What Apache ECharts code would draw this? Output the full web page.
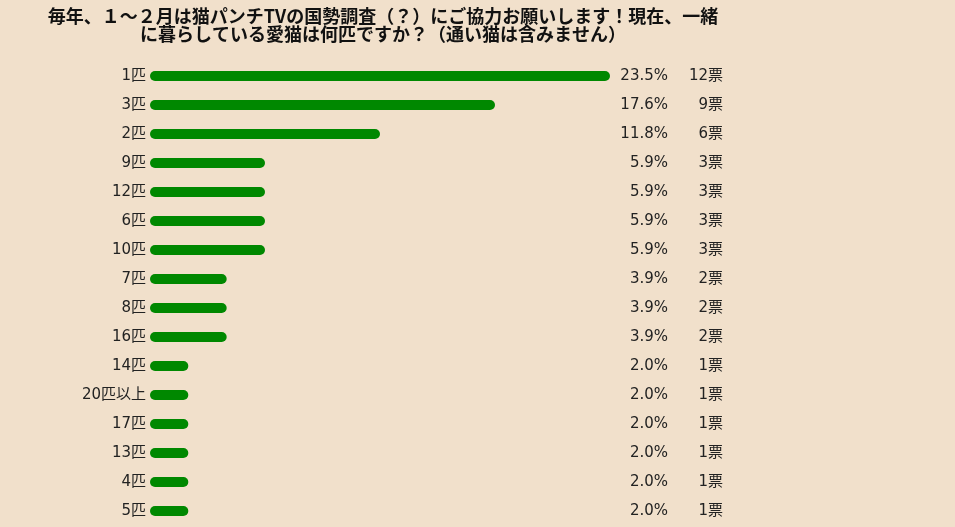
<!DOCTYPE html>
<html><head><meta charset="utf-8">
<script src="https://cdn.jsdelivr.net/npm/echarts@6/dist/echarts.min.js"></script>
<style>html,body{margin:0;padding:0;background:#F1E0CB}#c{width:955px;height:527px}</style>
</head><body><div id="c"></div>
<script>
const titleText = '毎年、１～２月は猫パンチTVの国勢調査（？）にご協力お願いします！現在、一緒\nに暮らしている愛猫は何匹ですか？（通い猫は含みません）';
const categories = ['1匹','3匹','2匹','9匹','12匹','6匹','10匹','7匹','8匹','16匹','14匹','20匹以上','17匹','13匹','4匹','5匹'];
const votes = [12,9,6,3,3,3,3,2,2,2,1,1,1,1,1,1];
const percents = ['23.5%','17.6%','11.8%','5.9%','5.9%','5.9%','5.9%','3.9%','3.9%','3.9%','2.0%','2.0%','2.0%','2.0%','2.0%','2.0%'];
const voteLabels = ['12票','9票','6票','3票','3票','3票','3票','2票','2票','2票','1票','1票','1票','1票','1票','1票'];

const chart = echarts.init(document.getElementById('c'));
const font = '"DejaVu Sans", "Noto Sans CJK JP", sans-serif';
const tfont = '"Noto Sans CJK JP", sans-serif';
chart.setOption({
  backgroundColor: '#F1E0CB',
  animation: false,
  title: {
    text: titleText, left: 378, top: 2, textAlign: 'center',
    textStyle: {fontFamily: tfont, fontSize: 18, fontWeight: 'bold', color: '#111', lineHeight: 18}
  },
  grid: {left: 150, width: 460, top: 61.5, height: 464},
  xAxis: {type: 'value', min: 0, max: 12, show: false},
  yAxis: [{
    type: 'category', data: categories, inverse: true,
    axisLine: {show: false}, axisTick: {show: false},
    axisLabel: {margin: 4, fontFamily: font, fontSize: 15, color: '#222'}
  }, {
    type: 'category', data: categories, inverse: true, position: 'right',
    axisLine: {show: false}, axisTick: {show: false},
    axisLabel: {
      margin: 0, fontFamily: font, fontSize: 15, color: '#222',
      formatter: (v, i) => '{p|' + percents[i] + '}{v|' + voteLabels[i] + '}',
      rich: {
        p: {width: 58, align: 'right', fontFamily: font, fontSize: 15, color: '#222'},
        v: {width: 55, align: 'right', fontFamily: font, fontSize: 15, color: '#222'}
      }
    }
  }],
  series: [{
    type: 'bar', data: votes, barWidth: 10,
    itemStyle: {color: '#008800', borderRadius: 5}
  }]
});
</script></body></html>
